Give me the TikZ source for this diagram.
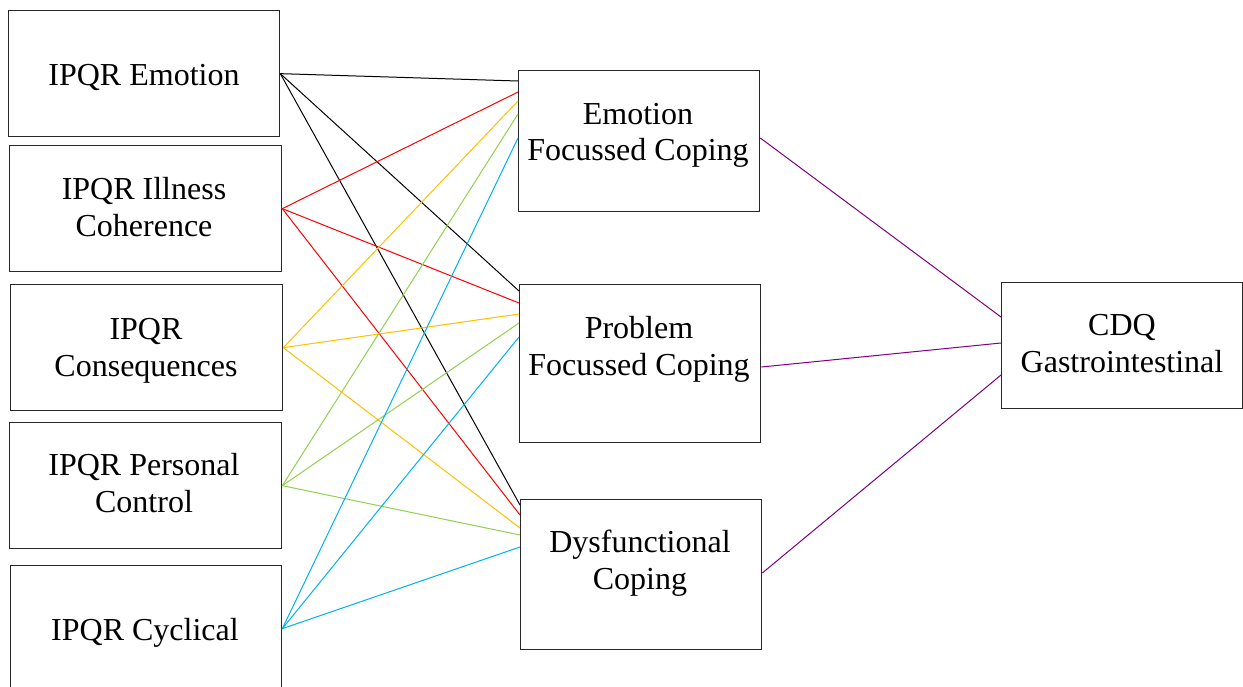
\documentclass[tikz,border=0pt]{standalone}
\usepackage{fontspec}
\setmainfont{Liberation Serif}
\definecolor{cred}{RGB}{255,0,0}
\definecolor{corange}{RGB}{255,192,0}
\definecolor{cgreen}{RGB}{146,208,80}
\definecolor{cblue}{RGB}{0,176,240}
\definecolor{cpurple}{RGB}{128,0,128}
\definecolor{cborder}{RGB}{40,40,40}
\tikzset{
  box/.style={draw=cborder, line width=1.3pt, rectangle, inner sep=0pt, anchor=north west, fill=none},
  lbl/.style={anchor=base, inner sep=0pt, font=\fontsize{32}{37}\selectfont},
  conn/.style={line width=1pt},
}
\begin{document}
\begin{tikzpicture}[x=1pt,y=-1pt]
\useasboundingbox (0,0) rectangle (1243,686);
\clip (0,0) rectangle (1243,686);
\fill[white] (0,0) rectangle (1243,686);

% left boxes
\node[box, minimum width=271pt, minimum height=126pt] (e) at (8,10) {};
\node[box, minimum width=272pt, minimum height=126pt] (ic) at (9,145) {};
\node[box, minimum width=272pt, minimum height=126pt] (c) at (10,284) {};
\node[box, minimum width=272pt, minimum height=126pt] (pc) at (9,422) {};
\node[box, minimum width=271pt, minimum height=126pt] (cy) at (10,565) {};
% middle boxes
\node[box, minimum width=241pt, minimum height=141pt] (efc) at (518,70) {};
\node[box, minimum width=241pt, minimum height=158pt] (pfc) at (519,284) {};
\node[box, minimum width=241pt, minimum height=150pt] (dc) at (520,499) {};
% right box
\node[box, minimum width=241pt, minimum height=126pt] (cdq) at (1001,282) {};

% labels
\node[lbl] (e1) at (144,85) {IPQR Emotion};
\node[lbl] (ic1) at (144,199) {IPQR Illness};
\node[lbl] (ic2) at (144,236) {Coherence};
\node[lbl] (c1) at (146,339) {IPQR};
\node[lbl] (c2) at (146,376) {Consequences};
\node[lbl] (pc1) at (144,475) {IPQR Personal};
\node[lbl] (pc2) at (144,512) {Control};
\node[lbl] (cy1) at (145,640) {IPQR Cyclical};
\node[lbl] (efc1) at (638,124) {Emotion};
\node[lbl] (efc2) at (638,160) {Focussed Coping};
\node[lbl] (pfc1) at (639,338) {Problem};
\node[lbl] (pfc2) at (639,375) {Focussed Coping};
\node[lbl] (dc1) at (640,552) {Dysfunctional};
\node[lbl] (dc2) at (640,589) {Coping};
\node[lbl] (cdq1) at (1122,335) {CDQ};
\node[lbl] (cdq2) at (1122,372) {Gastrointestinal};

% black: IPQR Emotion
\draw[conn, black] (e.east) -- ([yshift=-11pt]efc.north west);
\draw[conn, black] (e.east) -- ([yshift=-7pt]pfc.north west);
\draw[conn, black] (e.east) -- ([yshift=-6pt]dc.north west);
% red: Illness Coherence
\draw[conn, cred] (ic.east) -- ([yshift=-22pt]efc.north west);
\draw[conn, cred] (ic.east) -- ([yshift=-19pt]pfc.north west);
\draw[conn, cred] (ic.east) -- ([yshift=-16pt]dc.north west);
% orange: Consequences
\draw[conn, corange] (c.east) -- ([yshift=-31pt]efc.north west);
\draw[conn, corange] (c.east) -- ([yshift=-30pt]pfc.north west);
\draw[conn, corange] (c.east) -- ([yshift=-29pt]dc.north west);
% green: Personal Control
\draw[conn, cgreen] (pc.east) -- ([yshift=-44pt]efc.north west);
\draw[conn, cgreen] (pc.east) -- ([yshift=-39pt]pfc.north west);
\draw[conn, cgreen] (pc.east) -- ([yshift=-36pt]dc.north west);
% blue: Cyclical
\draw[conn, cblue] (cy.east) -- ([yshift=-68pt]efc.north west);
\draw[conn, cblue] (cy.east) -- ([yshift=-53pt]pfc.north west);
\draw[conn, cblue] (cy.east) -- ([yshift=-48pt]dc.north west);
% purple: coping -> CDQ
\draw[conn, cpurple] ([yshift=-68pt]efc.north east) -- ([yshift=-35pt]cdq.north west);
\draw[conn, cpurple] ([yshift=-83pt]pfc.north east) -- ([yshift=-61pt]cdq.north west);
\draw[conn, cpurple] ([yshift=-74pt]dc.north east) -- ([yshift=-93pt]cdq.north west);
\end{tikzpicture}
\end{document}
